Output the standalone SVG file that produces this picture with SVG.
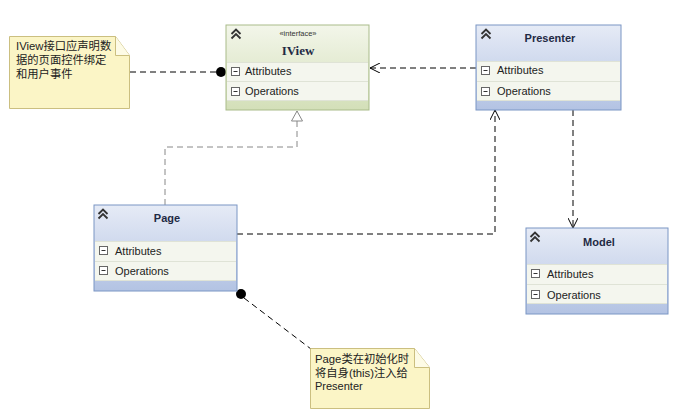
<svg xmlns="http://www.w3.org/2000/svg" width="677" height="419" viewBox="0 0 677 419">
<defs>
<linearGradient id="gBlue" x1="0" y1="0" x2="0" y2="1">
<stop offset="0" stop-color="#e6ebf6"/>
<stop offset="1" stop-color="#b3c3e3"/>
</linearGradient>
<linearGradient id="gGreen" x1="0" y1="0" x2="0" y2="1">
<stop offset="0" stop-color="#f3f6ea"/>
<stop offset="1" stop-color="#d3dfb8"/>
</linearGradient>
<marker id="open" viewBox="0 0 10 10" refX="10" refY="5" markerWidth="10" markerHeight="10" orient="auto" markerUnits="userSpaceOnUse">
<path d="M0,0 L10,5 L0,10" fill="none" stroke="#000" stroke-width="1"/>
</marker>
<marker id="tri" viewBox="0 0 12 12" refX="11" refY="6" markerWidth="12" markerHeight="12" orient="auto" markerUnits="userSpaceOnUse">
<path d="M1,0.5 L11,6 L1,11.5 Z" fill="#fff" stroke="#888" stroke-width="1"/>
</marker>
<g id="chev">
<path d="M0.5,6 L5,1.5 L9.5,6 M0.5,10.5 L5,6 L9.5,10.5" fill="none" stroke="#333" stroke-width="1.8"/>
</g>
<g id="minus">
<rect x="0.5" y="0.5" width="8" height="8" fill="#fff" stroke="#666" stroke-width="1"/>
<line x1="2.5" y1="4.5" x2="6.5" y2="4.5" stroke="#333" stroke-width="1"/>
</g>
</defs>
<style>
.name{font-family:"Liberation Sans",Arial,sans-serif;font-size:11px;font-weight:bold;fill:#1f2a44;text-anchor:middle}
.row{font-family:"Liberation Sans",Arial,sans-serif;font-size:11px;fill:#222}
.note{font-family:"Liberation Sans","Noto Sans CJK SC",sans-serif;font-size:11.3px;fill:#222}
.box{stroke:#7b96c4;stroke-width:1}
.gbox{stroke:#a9bb8a;stroke-width:1}
.rowbg{fill:#f4f6ee}
.sep{stroke:#dfe3d6;stroke-width:1}
.dash{fill:none;stroke:#000;stroke-width:1;stroke-dasharray:6,4}
.gdash{fill:none;stroke:#888;stroke-width:1;stroke-dasharray:6,4}
.nfill{fill:#fbf5c6;stroke:#cbbf80;stroke-width:1}
</style>

<g id="connectors">
<line class="dash" x1="130" y1="72" x2="218" y2="72"/>
<circle cx="221" cy="72" r="5" fill="#000"/>
<line class="dash" x1="476" y1="68" x2="370" y2="68" marker-end="url(#open)"/>
<polyline class="gdash" points="165,205 165,147 297,147 297,111" marker-end="url(#tri)"/>
<polyline class="dash" points="237,234 495,234 495,110" marker-end="url(#open)"/>
<line class="dash" x1="573" y1="110" x2="573" y2="228" marker-end="url(#open)"/>
<circle cx="241" cy="294" r="5" fill="#000"/>
<line class="dash" x1="244" y1="298" x2="311" y2="349"/>
</g>

<g id="IView">
<rect x="226" y="25" width="143" height="85" fill="url(#gGreen)" class="gbox"/>
<rect x="227" y="62" width="141" height="39" class="rowbg"/>
<line x1="227" y1="81.5" x2="368" y2="81.5" class="sep"/>
<line x1="227" y1="62.5" x2="368" y2="62.5" class="sep"/>
<line x1="227" y1="100.5" x2="368" y2="100.5" class="sep"/>
<use href="#chev" x="231" y="28"/>
<text x="298" y="36" text-anchor="middle" font-family="Liberation Sans,Arial,sans-serif" font-size="7.5" fill="#333">«interface»</text>
<text x="298" y="55" text-anchor="middle" font-family="Liberation Serif,serif" font-size="13" font-weight="bold" fill="#1f2a44">IView</text>
<use href="#minus" x="231" y="67"/>
<text x="245" y="75" class="row">Attributes</text>
<use href="#minus" x="231" y="87"/>
<text x="245" y="95" class="row">Operations</text>
</g>

<g id="Presenter">
<rect x="476" y="25" width="145" height="85" fill="url(#gBlue)" class="box"/>
<rect x="477" y="61" width="143" height="40" class="rowbg"/>
<line x1="477" y1="61.5" x2="620" y2="61.5" class="sep"/>
<line x1="477" y1="81.5" x2="620" y2="81.5" class="sep"/>
<line x1="477" y1="100.5" x2="620" y2="100.5" class="sep"/>
<use href="#chev" x="481" y="28"/>
<text x="550" y="42" class="name">Presenter</text>
<use href="#minus" x="481" y="66"/>
<text x="497" y="74" class="row">Attributes</text>
<use href="#minus" x="481" y="87"/>
<text x="497" y="95" class="row">Operations</text>
</g>

<g id="Page">
<rect x="94" y="205" width="143" height="86" fill="url(#gBlue)" class="box"/>
<rect x="95" y="241" width="141" height="40" class="rowbg"/>
<line x1="95" y1="241.5" x2="236" y2="241.5" class="sep"/>
<line x1="95" y1="261.5" x2="236" y2="261.5" class="sep"/>
<line x1="95" y1="280.5" x2="236" y2="280.5" class="sep"/>
<use href="#chev" x="98" y="208"/>
<text x="167" y="222" class="name">Page</text>
<use href="#minus" x="99" y="246"/>
<text x="115" y="255" class="row">Attributes</text>
<use href="#minus" x="99" y="266"/>
<text x="115" y="275" class="row">Operations</text>
</g>

<g id="Model">
<rect x="526" y="228" width="142" height="86" fill="url(#gBlue)" class="box"/>
<rect x="527" y="264" width="140" height="40" class="rowbg"/>
<line x1="527" y1="264.5" x2="667" y2="264.5" class="sep"/>
<line x1="527" y1="284.5" x2="667" y2="284.5" class="sep"/>
<line x1="527" y1="303.5" x2="667" y2="303.5" class="sep"/>
<use href="#chev" x="530" y="231"/>
<text x="599" y="246" class="name">Model</text>
<use href="#minus" x="531" y="269"/>
<text x="547" y="278" class="row">Attributes</text>
<use href="#minus" x="531" y="290"/>
<text x="547" y="299" class="row">Operations</text>
</g>

<g id="note1">
<path d="M9.5,36.5 H115.5 L129.5,55.5 V108.5 H9.5 Z" class="nfill"/>
<path d="M115.5,36.5 V55.5 H129.5" fill="#fdfbe6" stroke="#cbbf80" stroke-width="1"/>
<text class="note"><tspan x="16" y="50">IView接口应声明数</tspan><tspan x="16" y="64">据的页面控件绑定</tspan><tspan x="16" y="78">和用户事件</tspan></text>
</g>

<g id="note2">
<path d="M310.5,348.5 H414.5 L429.5,367.5 V408.5 H310.5 Z" class="nfill"/>
<path d="M414.5,348.5 V367.5 H429.5" fill="#fdfbe6" stroke="#cbbf80" stroke-width="1"/>
<text class="note"><tspan x="315" y="363">Page类在初始化时</tspan><tspan x="315" y="377">将自身(this)注入给</tspan><tspan x="315" y="390" font-size="11">Presenter</tspan></text>
</g>
</svg>
